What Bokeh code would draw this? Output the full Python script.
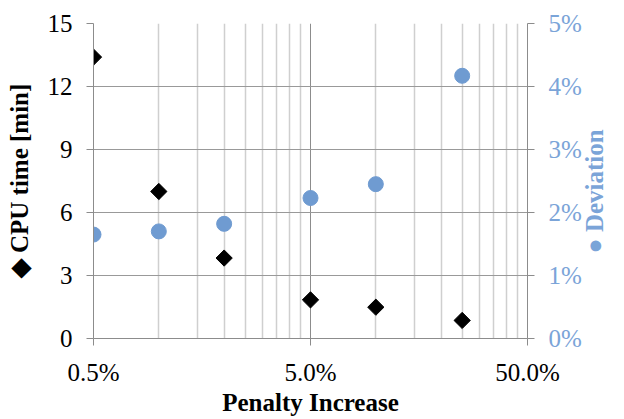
import math
from bokeh.plotting import figure
from bokeh.models import (Range1d, LinearAxis, FixedTicker, CustomJSTickFormatter,
                          NumeralTickFormatter)
from bokeh.embed import file_html
from bokeh.resources import INLINE

# ---- data ----
penalty = [0.005, 0.01, 0.02, 0.05, 0.10, 0.25]
cpu_time = [13.4, 7.0, 3.83, 1.84, 1.49, 0.86]
deviation = [0.0165, 0.0170, 0.0182, 0.0223, 0.0245, 0.0417]

x_major_ticks = [0.005, 0.05, 0.5]
x_minor_ticks = [0.010, 0.015, 0.020, 0.025, 0.030, 0.035, 0.040, 0.045,
                 0.10, 0.15, 0.20, 0.25, 0.30, 0.35, 0.40, 0.45]
cpu_ticks = [0, 3, 6, 9, 12, 15]
dev_ticks = [0.0, 0.01, 0.02, 0.03, 0.04, 0.05]

# layout: where the rotated right-hand title starts (in right-axis units)
DEV_TITLE_AT = 0.0135

BLUE = "#6f9bd1"
BLUE_TXT = "#7ba4d8"
GRID_DARK = "#8c8c8c"
GRID_LIGHT = "#cfcfcf"
FONT = "Liberation Serif"
FS = "25px"

p = figure(width=624, height=419, x_axis_type="log",
           x_range=Range1d(0.005, 0.5), y_range=Range1d(0, 15),
           output_backend="svg", toolbar_location=None,
           min_border_left=93, min_border_right=93,
           min_border_top=23, min_border_bottom=81)
p.outline_line_color = None
p.background_fill_color = "white"
p.border_fill_color = "white"

p.extra_y_ranges = {"dev": Range1d(0, 0.05)}

bottom = p.below[0]
left = p.left[0]

xticker = FixedTicker(ticks=x_major_ticks, minor_ticks=x_minor_ticks)
bottom.ticker = xticker
p.xgrid.ticker = xticker
bottom.formatter = CustomJSTickFormatter(code="return (tick*100).toFixed(1) + '%';")
left.ticker = FixedTicker(ticks=cpu_ticks)
p.ygrid.ticker = FixedTicker(ticks=cpu_ticks)

p.xgrid.grid_line_color = GRID_DARK
p.xgrid.minor_grid_line_color = GRID_LIGHT
p.xgrid.minor_grid_line_width = 1.5
p.ygrid.grid_line_color = "#999999"

right = LinearAxis(y_range_name="dev", ticker=FixedTicker(ticks=dev_ticks),
                   formatter=NumeralTickFormatter(format="0%"))
p.add_layout(right, "right")

for ax in [bottom, left, right]:
    ax.axis_line_color = GRID_DARK
    ax.major_tick_line_color = GRID_DARK
    ax.major_tick_out = 7
    ax.major_tick_in = 0
    ax.minor_tick_line_color = None
    ax.major_label_text_font = FONT
    ax.major_label_text_font_size = FS
    ax.axis_label_text_font = FONT
    ax.axis_label_text_font_size = FS
    ax.axis_label_text_font_style = "bold"

bottom.major_label_text_color = "black"
bottom.major_label_standoff = 13
bottom.axis_label = "Penalty Increase"
bottom.axis_label_standoff = 0
bottom.axis_label_text_color = "black"

left.major_label_text_color = "black"
left.major_label_standoff = 14
left.axis_label = "\u25c6 CPU time [min]"
left.axis_label_standoff = 12
left.axis_label_text_color = "black"

right.major_label_text_color = BLUE_TXT
right.major_label_standoff = 14
right.axis_label = None

# right-hand title, reading bottom-to-top, drawn as the single label of a bare axis
title_axis = LinearAxis(y_range_name="dev", ticker=FixedTicker(ticks=[DEV_TITLE_AT]),
                        formatter=CustomJSTickFormatter(code="return '\u25cf Deviation';"),
                        major_label_orientation=math.pi / 2,
                        axis_label=None,
                        axis_line_color=None, major_tick_line_color=None,
                        minor_tick_line_color=None, major_tick_out=0, major_tick_in=0,
                        major_label_standoff=10,
                        major_label_text_font=FONT, major_label_text_font_size=FS,
                        major_label_text_font_style="bold",
                        major_label_text_color=BLUE_TXT)
p.add_layout(title_axis, "right")

p.scatter(penalty, deviation, marker="circle", size=15, color=BLUE,
          y_range_name="dev")
p.scatter(penalty, cpu_time, marker="square", size=11.5, angle=math.pi / 4,
          color="black")

open("out.html", "w").write(file_html(p, INLINE))
